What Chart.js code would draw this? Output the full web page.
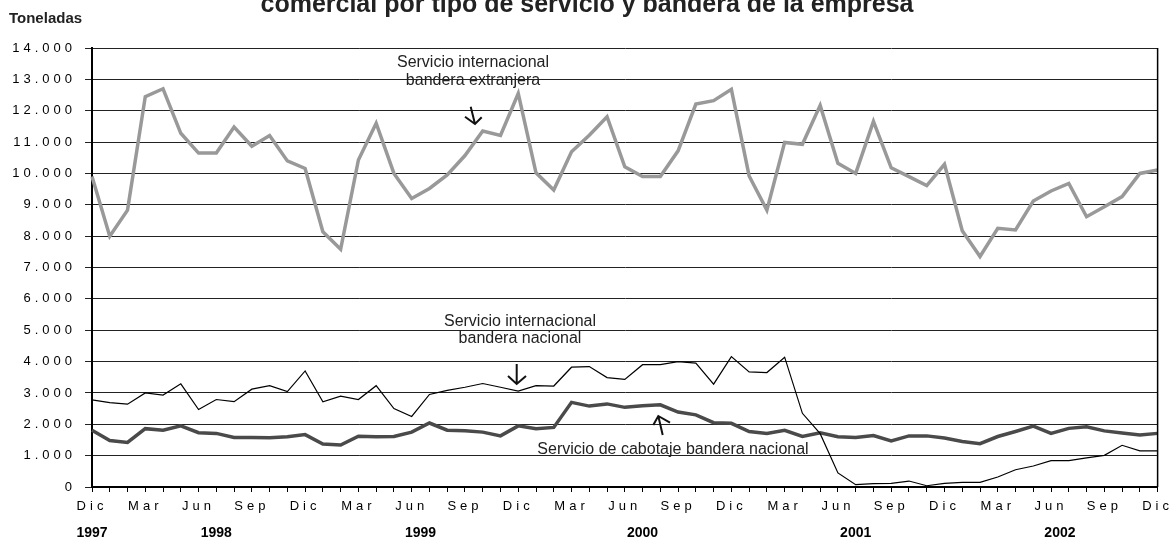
<!DOCTYPE html>
<html>
<head>
<meta charset="utf-8">
<script src="https://cdn.jsdelivr.net/npm/chart.js@4"></script>
<style>
  html, body { margin: 0; padding: 0; background: #fff; }
  #wrap { width: 1174px; height: 540px; }
</style>
</head>
<body>
<div id="wrap"><canvas id="chart" width="1174" height="540"></canvas></div>
<script>
// DATOS (toneladas, mensual dic 1997 - dic 2002)
const monthNames = ["Dic", "Ene", "Feb", "Mar", "Abr", "May", "Jun", "Jul", "Ago", "Sep", "Oct", "Nov"];
const categories = [];
for (let i = 0; i <= 60; i++) categories.push(monthNames[i % 12]);

const yearLabels = ["1997", "1998", "1999", "2000", "2001", "2002"];
const yearPos = [0, 7, 18.5, 31, 43, 54.5];

const intlExtranjera = [
  9900, 8000, 8830, 12450, 12700, 11280, 10650, 10650, 11480, 10870, 11210, 10400,
  10160, 8140, 7580, 10430, 11600, 10000, 9200, 9520, 9950, 10570, 11350, 11210,
  12550, 10020, 9470, 10690, 11220, 11810, 10210, 9900, 9900, 10720, 12210, 12320,
  12680, 9920, 8830, 10990, 10930, 12170, 10320, 10000, 11660, 10180, 9900, 9610,
  10290, 8170, 7350, 8250, 8200, 9120, 9440, 9680, 8620, 8940, 9260, 10000, 10110,
];
const intlNacional = [
  2780, 2690, 2640, 3000, 2930, 3290, 2470, 2790, 2720, 3120, 3230, 3040,
  3700, 2720, 2900, 2790, 3230, 2500, 2250, 2950, 3080, 3180, 3300, 3180,
  3060, 3230, 3220, 3820, 3840, 3490, 3430, 3900, 3900, 4000, 3950, 3280,
  4160, 3670, 3650, 4140, 2350, 1700, 450, 75, 105, 115, 190, 40,
  115, 150, 150, 320, 550, 670, 840, 840, 930, 1010, 1330, 1150, 1150,
];
const cabotaje = [
  1810, 1480, 1420, 1860, 1810, 1950, 1730, 1710, 1580, 1580, 1570, 1600,
  1670, 1370, 1340, 1620, 1600, 1610, 1750, 2040, 1810, 1790, 1750, 1630,
  1950, 1860, 1900, 2700, 2580, 2650, 2540, 2590, 2620, 2390, 2300, 2050,
  2030, 1770, 1710, 1810, 1610, 1730, 1600, 1580, 1640, 1470, 1630, 1630,
  1560, 1450, 1380, 1610, 1770, 1940, 1710, 1870, 1920, 1790, 1720, 1660, 1710,
];

const FONT = "'Liberation Sans', Arial, sans-serif";
Chart.defaults.font.family = FONT;
Chart.defaults.color = "#000";

function miles(v) {
  return String(v).replace(/\B(?=(\d{3})+(?!\d))/g, ".");
}

// espaciado de letras para los ejes, textos y flechas encima
const decor = {
  id: "decor",
  beforeDraw(chart) {
    const ctx = chart.ctx;
    ctx.save();
    ctx.fillStyle = "#fff";
    ctx.fillRect(0, 0, chart.width, chart.height);
    ctx.restore();
    ctx.letterSpacing = "4px";
  },
  afterDatasetsDraw(chart) {
    chart.ctx.letterSpacing = "0px";
  },
  afterDraw(chart) {
    const ctx = chart.ctx;
    const a = chart.chartArea;
    ctx.save();
    ctx.letterSpacing = "0px";

    // borde derecho
    ctx.strokeStyle = "#000";
    ctx.lineWidth = 1.5;
    ctx.beginPath();
    ctx.moveTo(a.right, a.top);
    ctx.lineTo(a.right, a.bottom);
    ctx.stroke();

    // titulo (cortado arriba)
    ctx.fillStyle = "#222";
    ctx.textAlign = "center";
    ctx.textBaseline = "alphabetic";
    ctx.font = "bold 25px " + FONT;
    ctx.fillText("comercial por tipo de servicio y bandera de la empresa", 587, 12);

    ctx.textAlign = "left";
    ctx.font = "bold 15px " + FONT;
    ctx.fillText("Toneladas", 9, 23);

    // anotaciones
    ctx.textAlign = "center";
    ctx.textBaseline = "middle";
    ctx.font = "16px " + FONT;
    ctx.fillText("Servicio internacional", 473, 63);
    ctx.fillText("bandera extranjera", 473, 81);
    ctx.fillText("Servicio internacional", 520, 322);
    ctx.fillText("bandera nacional", 520, 339);
    ctx.fillText("Servicio de cabotaje bandera nacional", 673, 450);

    ctx.strokeStyle = "#111";
    ctx.lineWidth = 2;
    const arrows = [
      [[470.7, 106.7], [475, 124], [465, 116.7], [481.7, 117.3]],
      [[516.7, 364], [516.7, 384], [508, 376], [526, 376]],
      [[662.7, 435], [658.3, 416], [653.3, 425], [670, 422.7]],
    ];
    arrows.forEach(function (ar) {
      ctx.beginPath();
      ctx.moveTo(ar[0][0], ar[0][1]);
      ctx.lineTo(ar[1][0], ar[1][1]);
      ctx.moveTo(ar[2][0], ar[2][1]);
      ctx.lineTo(ar[1][0], ar[1][1]);
      ctx.lineTo(ar[3][0], ar[3][1]);
      ctx.stroke();
    });
    ctx.restore();
  },
};

new Chart(document.getElementById("chart"), {
  type: "line",
  data: {
    labels: categories,
    datasets: [
      {
        label: "Servicio internacional bandera extranjera",
        data: intlExtranjera,
        borderColor: "#999999",
        borderWidth: 3.5,
        pointRadius: 0,
        tension: 0,
      },
      {
        label: "Servicio internacional bandera nacional",
        data: intlNacional,
        borderColor: "#000000",
        borderWidth: 1.2,
        pointRadius: 0,
        tension: 0,
      },
      {
        label: "Servicio de cabotaje bandera nacional",
        data: cabotaje,
        borderColor: "#4a4a4a",
        borderWidth: 3.5,
        pointRadius: 0,
        tension: 0,
      },
    ],
  },
  options: {
    responsive: false,
    animation: false,
    devicePixelRatio: 1,
    layout: {
      padding: { top: 48, right: 12, left: 0, bottom: 0 },
    },
    plugins: {
      legend: { display: false },
      title: { display: false },
      tooltip: { enabled: false },
    },
    scales: {
      x: {
        type: "category",
        offset: false,
        weight: 0,
        afterFit: function (scale) {
          scale.height = 30;
        },
        grid: {
          drawOnChartArea: false,
          drawTicks: true,
          tickLength: 5,
          color: "#000",
        },
        border: { color: "#000", width: 2 },
        ticks: {
          autoSkip: false,
          maxRotation: 0,
          padding: 7,
          font: { size: 13 },
          color: "#000",
          callback: function (value, index) {
            return index % 3 === 0 ? categories[index] : "";
          },
        },
      },
      x2: {
        type: "linear",
        position: "bottom",
        min: 0,
        max: 60,
        weight: 1,
        afterFit: function (scale) {
          scale.height = 23;
        },
        afterBuildTicks: function (scale) {
          scale.ticks = yearPos.map(function (v) {
            return { value: v };
          });
        },
        grid: { display: false },
        border: { display: false },
        ticks: {
          z: 1,
          padding: 0,
          maxRotation: 0,
          autoSkip: false,
          font: { size: 14, weight: "bold" },
          color: "#000",
          callback: function (value) {
            return yearLabels[yearPos.indexOf(value)];
          },
        },
      },
      y: {
        min: 0,
        max: 14000,
        afterFit: function (scale) {
          scale.width = 92;
        },
        grid: {
          color: "#222",
          lineWidth: 1,
          drawTicks: true,
          tickLength: 7,
        },
        border: { color: "#000", width: 2 },
        ticks: {
          stepSize: 1000,
          padding: 9,
          font: { size: 13 },
          color: "#000",
          callback: function (v) {
            return miles(v);
          },
        },
      },
    },
  },
  plugins: [decor],
});
</script>
</body>
</html>
